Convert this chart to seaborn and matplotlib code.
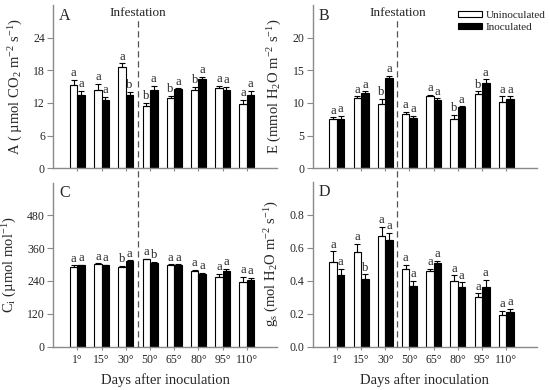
import matplotlib
matplotlib.use("Agg")
import matplotlib.pyplot as plt
import matplotlib.transforms as mtransforms
from matplotlib.lines import Line2D
import numpy as np
import pandas as pd
import seaborn as sns

# --- DATA ---
days = ["1°", "15°", "30°", "50°", "65°", "80°", "95°", "110°"]
treatments = ["Uninoculated", "Inoculated"]

# A: net photosynthesis
a_unin = [15.3, 14.4, 18.6, 11.5, 12.9, 14.4, 14.8, 11.8]
a_inoc = [13.5, 12.6, 13.4, 14.4, 14.5, 16.4, 14.4, 13.4]
a_unin_se = [1.0, 1.1, 0.7, 0.5, 0.4, 0.5, 0.4, 0.8]
a_inoc_se = [0.7, 0.5, 0.6, 0.8, 0.2, 0.4, 0.6, 0.8]
a_unin_let = ["a", "a", "a", "b", "b", "b", "a", "a"]
a_inoc_let = ["a", "a", "b", "a", "a", "a", "a", "a"]

# B: transpiration
e_unin = [7.6, 10.7, 9.9, 8.3, 11.1, 7.6, 11.3, 10.2]
e_inoc = [7.6, 11.5, 13.8, 7.7, 10.4, 9.4, 13.1, 10.6]
e_unin_se = [0.2, 0.3, 0.7, 0.3, 0.1, 0.6, 0.5, 0.8]
e_inoc_se = [0.4, 0.3, 0.4, 0.3, 0.3, 0.1, 0.5, 0.4]
e_unin_let = ["a", "a", "b", "a", "a", "b", "b", "a"]
e_inoc_let = ["a", "a", "a", "a", "a", "a", "a", "a"]

# C: internal CO2
ci_unin = [293, 303, 290, 319, 299, 276, 254, 236]
ci_inoc = [297, 297, 312, 307, 299, 266, 276, 242]
ci_unin_se = [4, 2, 5, 2, 2, 6, 12, 18]
ci_inoc_se = [3, 2, 4, 4, 2, 4, 8, 10]
ci_unin_let = ["a", "a", "b", "a", "a", "a", "a", "a"]
ci_inoc_let = ["a", "a", "a", "b", "a", "a", "a", "a"]

# D: stomatal conductance
gs_unin = [0.51, 0.57, 0.667, 0.468, 0.456, 0.396, 0.298, 0.191]
gs_inoc = [0.436, 0.41, 0.643, 0.367, 0.506, 0.358, 0.361, 0.211]
gs_unin_se = [0.066, 0.051, 0.06, 0.028, 0.016, 0.036, 0.024, 0.026]
gs_inoc_se = [0.034, 0.028, 0.046, 0.029, 0.012, 0.03, 0.041, 0.016]
gs_unin_let = ["a", "a", "a", "a", "a", "a", "a", "a"]
gs_inoc_let = ["a", "b", "a", "a", "a", "a", "a", "a"]

# --- STYLE ---
sns.set_style("ticks")
plt.rcParams["font.family"] = ["Liberation Serif", "DejaVu Serif"]
plt.rcParams["mathtext.fontset"] = "custom"
plt.rcParams["mathtext.rm"] = "Liberation Serif"
plt.rcParams["mathtext.it"] = "Liberation Serif:italic"
SPINE = "#8a8a8a"

fig = plt.figure(figsize=(5.5, 3.9), dpi=100)
W, H = 550.0, 390.0


def make_ax(left_px, bottom_px, width_px, height_px):
    return fig.add_axes([left_px / W, 1 - bottom_px / H, width_px / W, height_px / H])


panels = [
    dict(ax=make_ax(53.3, 168.3, 224, 163.3), unin=a_unin, inoc=a_inoc,
         use=a_unin_se, ise=a_inoc_se, ulet=a_unin_let, ilet=a_inoc_let,
         ylim=30, yticks=[0, 6, 12, 18, 24], tickfmt="{:g}", tag="A",
         ylabel="A ( µmol CO$_2$ m$^{-2}$ s$^{-1}$)", bottom=False),
    dict(ax=make_ax(312.7, 168.3, 224, 163.3), unin=e_unin, inoc=e_inoc,
         use=e_unin_se, ise=e_inoc_se, ulet=e_unin_let, ilet=e_inoc_let,
         ylim=25, yticks=[0, 5, 10, 15, 20], tickfmt="{:g}", tag="B",
         ylabel="E (mmol H$_2$O m$^{-2}$ s$^{-1}$)", bottom=False),
    dict(ax=make_ax(53.3, 346.5, 224, 163.8), unin=ci_unin, inoc=ci_inoc,
         use=ci_unin_se, ise=ci_inoc_se, ulet=ci_unin_let, ilet=ci_inoc_let,
         ylim=600, yticks=[0, 120, 240, 360, 480], tickfmt="{:g}", tag="C",
         ylabel="C$_\\mathrm{i}$ (µmol mol$^{-1}$)", bottom=True),
    dict(ax=make_ax(312.7, 346.5, 224, 165), unin=gs_unin, inoc=gs_inoc,
         use=gs_unin_se, ise=gs_inoc_se, ulet=gs_unin_let, ilet=gs_inoc_let,
         ylim=1.0, yticks=[0, 0.2, 0.4, 0.6, 0.8], tickfmt="{:.1f}", tag="D",
         ylabel="g$_\\mathrm{s}$ (mol H$_2$O m$^{-2}$ s$^{-1}$)", bottom=True),
]

for p in panels:
    ax = p["ax"]
    df = pd.DataFrame({
        "day": days * 2,
        "treatment": [treatments[0]] * len(days) + [treatments[1]] * len(days),
        "value": p["unin"] + p["inoc"],
    })
    sns.barplot(data=df, x="day", y="value", hue="treatment", order=days,
                hue_order=treatments,
                palette={"Uninoculated": "white", "Inoculated": "black"},
                edgecolor="black", linewidth=0.8, width=0.62, gap=0,
                errorbar=None, legend=False, ax=ax)

    for cont, se, lets in zip(ax.containers, [p["use"], p["ise"]], [p["ulet"], p["ilet"]]):
        xs = [b.get_x() + b.get_width() / 2 for b in cont]
        ys = [b.get_height() for b in cont]
        ax.errorbar(xs, ys, yerr=[np.zeros(len(se)), se], fmt="none",
                    ecolor="black", elinewidth=0.8, capsize=2.2, capthick=0.8)
        for x, y, s, l in zip(xs, ys, se, lets):
            ax.annotate(l, (x, y + s), xytext=(0, 0.5), textcoords="offset points",
                        ha="center", va="bottom", fontsize=9)

    ax.set_xlim(-1.0, 8.26)
    ax.set_ylim(0, p["ylim"])
    ax.set_yticks(p["yticks"])
    ax.set_yticklabels([p["tickfmt"].format(t) for t in p["yticks"]])
    ax.set_ylabel(p["ylabel"], fontsize=10.5, labelpad=6)
    if p["bottom"]:
        ax.set_xlabel("Days after inoculation", fontsize=10.5, labelpad=5)
    else:
        ax.set_xlabel("")
        ax.set_xticklabels([])
    sns.despine(ax=ax)
    for s in ["left", "bottom"]:
        ax.spines[s].set_color(SPINE)
        ax.spines[s].set_linewidth(1.0)
    ax.tick_params(axis="y", direction="out", length=4, width=0.8, color=SPINE,
                   labelsize=8.5, pad=2)
    ax.tick_params(axis="x", direction="out", length=2.5, width=0.8, color=SPINE,
                   labelsize=8.5, pad=3)
    ax.text(0.025, 0.935, p["tag"], transform=ax.transAxes, fontsize=11.5,
            ha="left", va="center")

# infestation markers, spanning the top and bottom rows
for top_ax in (panels[0]["ax"], panels[1]["ax"]):
    tr = mtransforms.blended_transform_factory(top_ax.transData, fig.transFigure)
    fig.add_artist(Line2D([2.5, 2.5], [1 - 347 / H, 1 - 18 / H], transform=tr,
                          color="#555555", linewidth=0.9, linestyle=(0, (5, 3))))
    fig.text(2.5, 1 - 13 / H, "Infestation", transform=tr, ha="center",
             va="center", fontsize=9.5)

# legend in panel B
axb = panels[1]["ax"]
fig.legend([axb.containers[0][0], axb.containers[1][0]], treatments,
           loc="upper left", bbox_to_anchor=(458 / W, 1 - 11 / H),
           frameon=False, fontsize=8, handlelength=2.2, handleheight=0.45,
           handletextpad=0.3, labelspacing=0.3, borderpad=0, borderaxespad=0)

plt.savefig("out.png", dpi=100)
